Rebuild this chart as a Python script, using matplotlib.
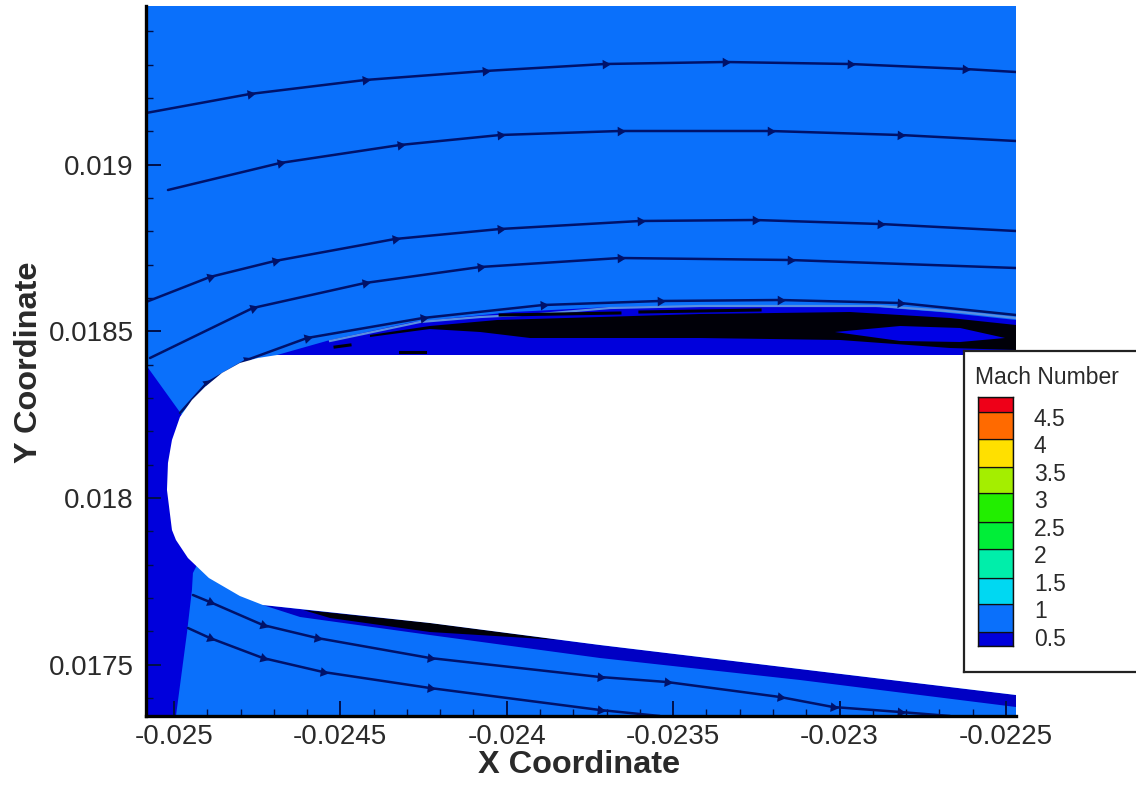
import numpy as np
import matplotlib
matplotlib.use("Agg")
import matplotlib.pyplot as plt
from matplotlib.ticker import MultipleLocator

plt.rcParams['font.family'] = ['Liberation Sans', 'DejaVu Sans']

# axis ranges and ticks
x_range = [-0.025084, -0.022470]
y_range = [0.017346, 0.019476]
x_ticks = [-0.025, -0.0245, -0.024, -0.0235, -0.023, -0.0225]
x_tick_labels = ['-0.025', '-0.0245', '-0.024', '-0.0235', '-0.023', '-0.0225']
y_ticks = [0.0175, 0.018, 0.0185, 0.019]
y_tick_labels = ['0.0175', '0.018', '0.0185', '0.019']

# colour key
key_edges = [0.336, 0.59, 1.1, 1.57, 2.1, 2.59, 3.12, 3.59, 4.1, 4.59, 4.86]
key_colors = ['#0000dc', '#0a70fb', '#00d8f2', '#00eeaa', '#00ee38', '#22ee00',
              '#a4ee00', '#ffe000', '#ff6a00', '#ee0018']
key_labels = [0.5, 1, 1.5, 2, 2.5, 3, 3.5, 4, 4.5]
key_label_text = ['0.5', '1', '1.5', '2', '2.5', '3', '3.5', '4', '4.5']

# body outline
body_x = [-0.024690, -0.024748, -0.024802, -0.024856, -0.024907, -0.024946, -0.024982,
          -0.025006, -0.025018, -0.025021, -0.025006, -0.024994, -0.024958, -0.024895,
          -0.024802, -0.024733, -0.024231, -0.023720, -0.022470, -0.022470]
body_y = [0.018429, 0.018420, 0.018405, 0.018375, 0.018333, 0.018294, 0.018243,
          0.018174, 0.018105, 0.018024, 0.017904, 0.017874, 0.017820, 0.017760,
          0.017706, 0.017679, 0.017625, 0.017559, 0.017409, 0.018429]

# low Mach regions
wedge_x = [-0.025084, -0.024976, -0.024832, -0.024943, -0.024946, -0.024961, -0.024994, -0.025084]
wedge_y = [0.018399, 0.018249, 0.017994, 0.017775, 0.017724, 0.017595, 0.017346, 0.017346]
upper_band_x = [-0.024690, -0.024531, -0.024282, -0.023981, -0.023690, -0.023419, -0.022969,
                -0.022698, -0.022470, -0.022470]
upper_band_y = [0.018429, 0.018474, 0.018528, 0.018558, 0.018573, 0.018576, 0.018579,
                0.018558, 0.018534, 0.018429]
lower_band_x = [-0.024733, -0.024231, -0.023720, -0.022470, -0.022470, -0.023119,
                -0.023720, -0.024231, -0.024621]
lower_band_y = [0.017679, 0.017625, 0.017559, 0.017409, 0.017373, 0.017454,
                0.017520, 0.017589, 0.017643]

# tangled streamline regions
upper_black_x = [-0.024411, -0.024231, -0.024029, -0.023720, -0.023419, -0.022969, -0.022668,
                 -0.022470, -0.022470, -0.022668, -0.022999, -0.023419, -0.023720, -0.023930,
                 -0.024080, -0.024231, -0.024411]
upper_black_y = [0.018489, 0.018516, 0.018534, 0.018543, 0.018552, 0.018558, 0.018540,
                 0.018519, 0.018444, 0.018450, 0.018474, 0.018480, 0.018480, 0.018480,
                 0.018498, 0.018507, 0.018483]
lens_x = [-0.023014, -0.022818, -0.022638, -0.022503, -0.022638, -0.022818]
lens_y = [0.018498, 0.018516, 0.018510, 0.018480, 0.018468, 0.018471]
lower_black_x = [-0.024612, -0.024231, -0.023840, -0.024231, -0.024531]
lower_black_y = [0.017664, 0.017625, 0.017574, 0.017598, 0.017640]
edge_x = [-0.024531, -0.024261, -0.024080, -0.023900, -0.023690, -0.023419, -0.022878, -0.022638, -0.022470]
edge_y = [0.018471, 0.018528, 0.018543, 0.018552, 0.018570, 0.018576, 0.018576, 0.018558, 0.018540]

# short black streaks above the tangled region and near the wall
streak1_x = [-0.024020, -0.023660]
streak1_y = [0.018549, 0.018555]
streak2_x = [-0.023600, -0.023239]
streak2_y = [0.018558, 0.018564]
streak3_x = [-0.024516, -0.024471]
streak3_y = [0.018453, 0.018459]
streak4_x = [-0.024321, -0.024246]
streak4_y = [0.018438, 0.018438]
streaks = [(streak1_x, streak1_y), (streak2_x, streak2_y), (streak3_x, streak3_y), (streak4_x, streak4_y)]

# streamlines
line1_x = [-0.025084, -0.024772, -0.024426, -0.024065, -0.023705, -0.023344, -0.022969, -0.022623, -0.022470]
line1_y = [0.019155, 0.019212, 0.019254, 0.019281, 0.019302, 0.019308, 0.019302, 0.019287, 0.019278]
line2_x = [-0.025018, -0.024681, -0.024321, -0.024020, -0.023660, -0.023209, -0.022818, -0.022470]
line2_y = [0.018924, 0.019005, 0.019059, 0.019089, 0.019101, 0.019101, 0.019089, 0.019071]
line3_x = [-0.025084, -0.024892, -0.024697, -0.024336, -0.024020, -0.023600, -0.023254, -0.022878, -0.022470]
line3_y = [0.018588, 0.018663, 0.018711, 0.018777, 0.018807, 0.018831, 0.018834, 0.018822, 0.018801]
line4_x = [-0.025072, -0.024763, -0.024426, -0.024080, -0.023660, -0.023149, -0.022470]
line4_y = [0.018420, 0.018570, 0.018645, 0.018693, 0.018720, 0.018714, 0.018690]
line5_x = [-0.024982, -0.024901, -0.024781, -0.024600, -0.024252, -0.023891, -0.023540, -0.023179, -0.022818, -0.022470]
line5_y = [0.018255, 0.018345, 0.018414, 0.018480, 0.018540, 0.018579, 0.018591, 0.018594, 0.018585, 0.018549]
line6_x = [-0.024943, -0.024892, -0.024733, -0.024570, -0.024231, -0.023720, -0.023519, -0.023179, -0.023020, -0.022818, -0.022668]
line6_y = [0.017709, 0.017688, 0.017619, 0.017580, 0.017520, 0.017463, 0.017448, 0.017403, 0.017373, 0.017358, 0.017346]
line7_x = [-0.024958, -0.024892, -0.024733, -0.024552, -0.024231, -0.023720, -0.023540]
line7_y = [0.017610, 0.017580, 0.017520, 0.017478, 0.017430, 0.017364, 0.017346]
streamlines = [(line1_x, line1_y), (line2_x, line2_y), (line3_x, line3_y), (line4_x, line4_y),
               (line5_x, line5_y), (line6_x, line6_y), (line7_x, line7_y)]

BLUE = '#0a70fb'
DARK = '#0000dc'
LINE = '#00126a'
TEXT = '#2a2a2a'

W, H = 1136, 786
fig = plt.figure(figsize=(W / 100, H / 100), dpi=100, facecolor='white')
ax = fig.add_axes([146 / W, (H - 716) / H, 870 / W, 710 / H], facecolor=BLUE)
ax.set_xlim(x_range)
ax.set_ylim(y_range)

ax.fill(wedge_x, wedge_y, color=DARK, lw=0, zorder=1)
ax.fill(upper_band_x, upper_band_y, color=DARK, lw=0, zorder=1)
ax.fill(lower_band_x, lower_band_y, color='#0000c4', lw=0, zorder=1)
ax.plot(edge_x, edge_y, color='#5a8fe0', lw=1.6, zorder=2)
ax.fill(upper_black_x, upper_black_y, color='#000008', lw=0, zorder=2)
ax.fill(lens_x, lens_y, color='#0000e6', lw=0, zorder=3)
ax.fill(lower_black_x, lower_black_y, color='#000008', lw=0, zorder=2)
for sx, sy in streaks:
    ax.plot(sx, sy, color='#000008', lw=2.2, zorder=3)

for lx, ly in streamlines:
    ax.plot(lx, ly, color=LINE, lw=1.8, zorder=4, solid_capstyle='round')
    for i in range(1, len(lx) - 1):
        ang = np.degrees(np.arctan2(ly[i + 1] - ly[i - 1], lx[i + 1] - lx[i - 1]))
        ax.plot(lx[i], ly[i], marker=(3, 0, ang - 90), ms=8, color=LINE, mew=0, zorder=4)

ax.fill(body_x, body_y, color='white', lw=0, zorder=5)

for side in ('top', 'right'):
    ax.spines[side].set_visible(False)
for side in ('left', 'bottom'):
    ax.spines[side].set_linewidth(2.4)
    ax.spines[side].set_color('black')
    ax.spines[side].set_zorder(6)

ax.set_xticks(x_ticks)
ax.set_xticklabels(x_tick_labels)
ax.set_yticks(y_ticks)
ax.set_yticklabels(y_tick_labels)
ax.xaxis.set_minor_locator(MultipleLocator(0.0001))
ax.yaxis.set_minor_locator(MultipleLocator(0.0001))
ax.tick_params(axis='both', which='major', direction='in', length=11, width=1.4,
               color='#00104a', labelsize=20, labelcolor=TEXT, zorder=4.5)
ax.tick_params(axis='both', which='minor', direction='in', length=5, width=1.0,
               color='#00104a', zorder=4.5)
ax.tick_params(axis='x', which='major', pad=6)
ax.tick_params(axis='y', which='major', pad=9)

ax.set_xlabel('X Coordinate', fontsize=23.4, fontweight='bold', color=TEXT, va='center')
ax.xaxis.set_label_coords((579 - 146) / 870, -(765 - 716) / 710)
ax.set_ylabel('Y Coordinate', fontsize=23.4, fontweight='bold', color=TEXT, va='center')
ax.yaxis.set_label_coords((29 - 146) / 870, (716 - 362) / 710)

# legend panel
panel = fig.add_axes([964 / W, (H - 672) / H, 180 / W, 321 / H], facecolor='white', zorder=8)
panel.set_xticks([])
panel.set_yticks([])
for side, sp in panel.spines.items():
    sp.set_linewidth(1.6)
    sp.set_color('#222222')
panel.spines['right'].set_visible(False)
fig.text(975 / W, (H - 378) / H, 'Mach Number', fontsize=16.5, color=TEXT, va='center', ha='left', zorder=9)

key = fig.add_axes([978 / W, (H - 646) / H, 35 / W, 249 / H], zorder=9)
key.set_xlim(0, 1)
key.set_ylim(key_edges[0], key_edges[-1])
key.bar(0.5, np.diff(key_edges), width=1, bottom=key_edges[:-1], color=key_colors,
        edgecolor='#101010', linewidth=0.9)
key.set_xticks([])
key.yaxis.tick_right()
key.set_yticks(key_labels)
key.set_yticklabels(key_label_text)
key.tick_params(axis='y', length=0, pad=15, labelsize=16.5, labelcolor=TEXT)
for sp in key.spines.values():
    sp.set_linewidth(1.0)
    sp.set_color('#101010')

fig.savefig('out.png', dpi=100)
